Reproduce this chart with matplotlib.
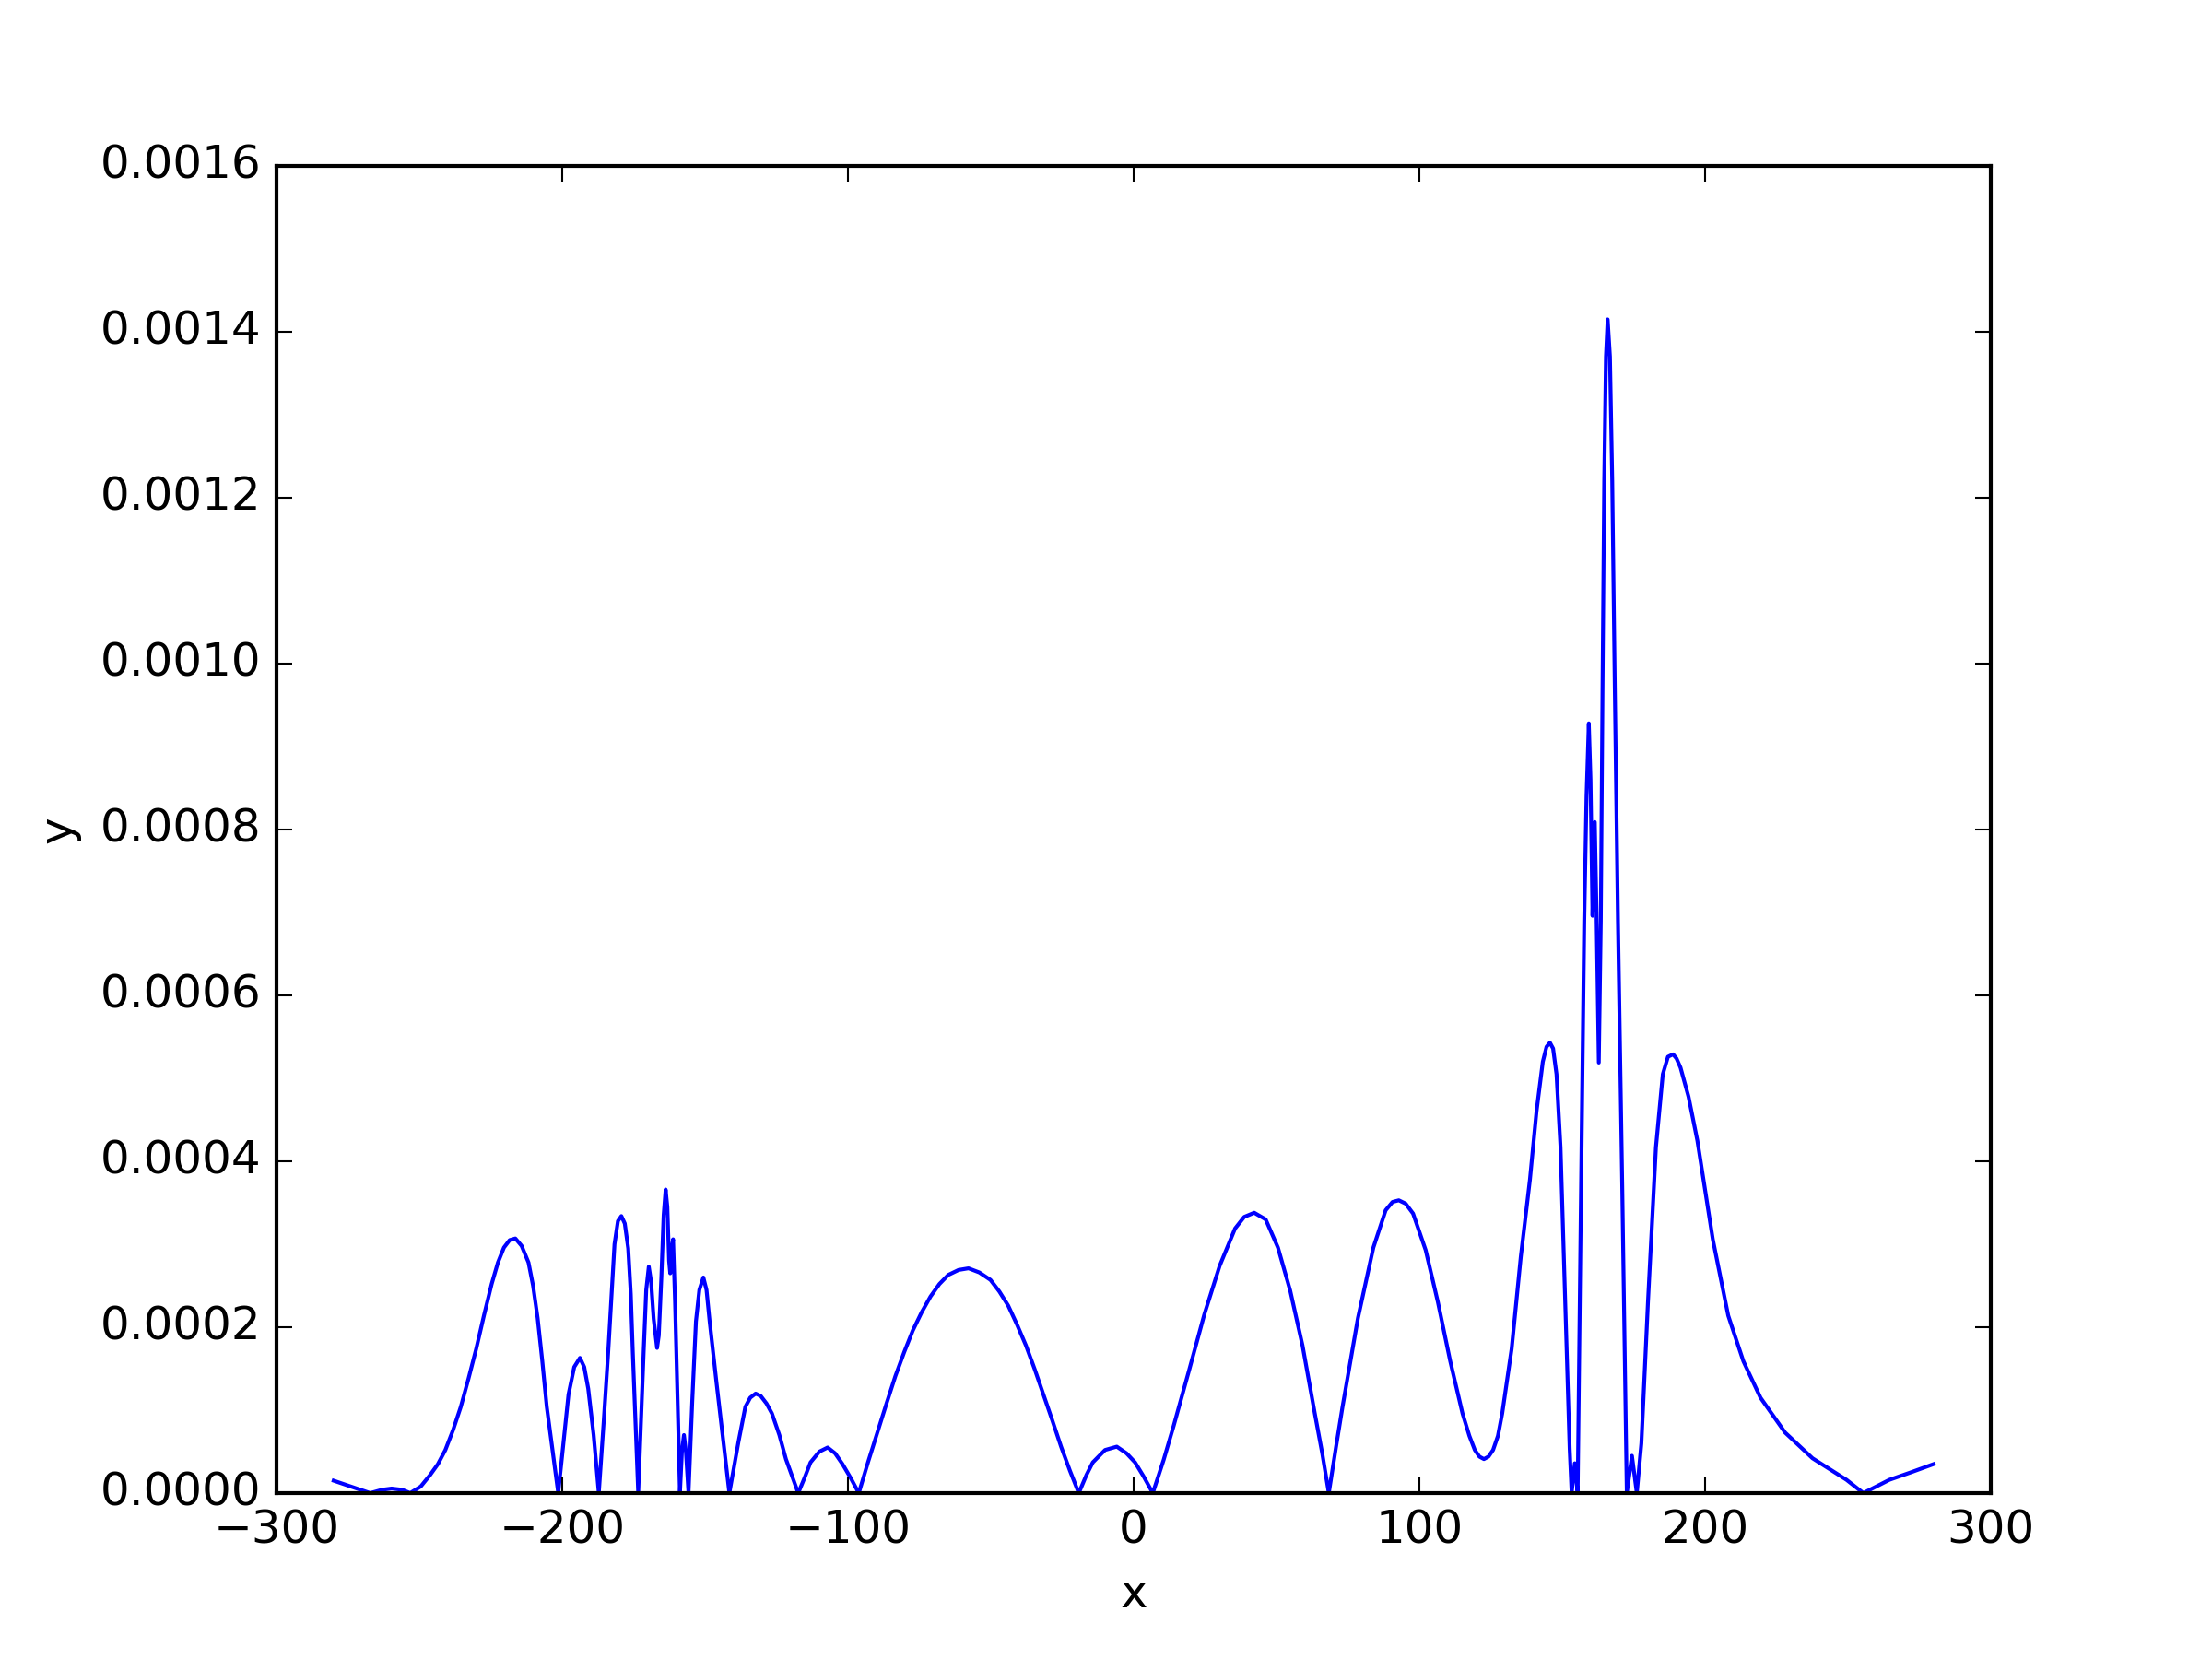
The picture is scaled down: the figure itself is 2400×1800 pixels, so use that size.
import numpy as np
import matplotlib
matplotlib.use("Agg")
import matplotlib.pyplot as plt

# ---------- Data (y in units of 1e-4) ---------- #
x_vals = [
    # left edge and first big lobe
    -280.0, -274.0, -267.2, -263.0, -259.7, -256.0, -253.2, -249.5, -246.2, -243.5,
    -240.9, -238.2, -235.5, -232.8, -230.1, -227.4, -224.7, -222.5, -220.4, -218.4,
    -216.4, -214.2, -211.8, -210.2, -208.6, -207.0, -205.4, -203.4, -201.4,
    # dense region around -180
    -199.6, -197.8, -195.8, -193.8, -192.3, -190.9, -189.0, -187.2, -185.5, -183.9,
    -182.7, -181.7, -180.5, -179.3, -178.1, -176.9, -176.0, -175.3, -174.4, -173.4,
    -172.4, -171.5, -170.6, -169.7, -168.9, -168.0, -166.8, -166.2, -165.3, -164.5,
    -163.8, -163.2, -162.6, -162.2, -161.7, -161.2, -160.5, -159.7, -158.8, -158.1,
    -157.4, -156.7, -155.8, -154.5, -153.2, -152.0, -150.6, -149.5, -148.4, -146.0,
    -143.5, -141.5,
    # small lobes
    -139.7, -138.3, -135.9, -134.2, -132.3, -130.5, -128.5, -126.6, -124.0, -121.7,
    -119.5, -117.4, -115.0, -113.1, -110.0, -107.1, -104.5, -101.9, -99.0, -96.2,
    # broad lobe around -58
    -92.9, -89.6, -86.5, -83.4, -80.3, -77.3, -74.2, -71.1, -68.0, -64.9,
    -61.3, -57.8, -54.0, -50.1, -47.0, -43.9, -40.8, -37.7, -34.6, -31.6,
    -28.5, -25.4, -22.3, -19.2,
    # small lobe around -6
    -16.5, -14.3, -10.0, -5.9, -2.5, 0.5, 3.5, 6.7,
    # lobes around 42 and 93, dip at 123, peak at 146
    10.5, 14.0, 19.4, 24.7, 30.1, 35.5, 38.7, 42.2, 46.2, 50.5,
    54.8, 59.1, 63.4, 66.0, 68.3, 70.8, 73.1, 78.5, 83.9, 88.2,
    90.6, 92.8, 95.2, 97.8, 102.2, 106.5, 110.8, 115.1, 117.5, 119.4,
    121.0, 122.6, 124.2, 125.8, 127.5, 129.0, 132.3, 135.5, 138.7, 141.0,
    143.2, 144.5, 145.7, 146.8, 148.0, 149.4, 151.0, 152.6, 153.3,
    # spikes around 160-175
    154.4, 155.4, 156.5, 157.7, 158.5, 159.3, 159.9, 160.6, 161.4, 162.0,
    162.8, 163.5, 164.1, 164.7, 165.3, 165.9, 166.7, 167.5, 168.4, 169.5,
    171.0, 172.6, 174.4, 176.1,
    # last lobe and tail
    177.7, 180.0, 182.8, 185.2, 187.0, 188.8, 190.0, 191.4, 194.2, 197.3,
    202.7, 208.1, 213.4, 219.4, 228.0, 237.6, 249.5, 255.4, 264.5, 272.0,
    280.0,
]
y_vals = [
    0.15, 0.08, 0.00, 0.04, 0.055, 0.04, 0.00, 0.08, 0.22, 0.35,
    0.52, 0.76, 1.04, 1.38, 1.74, 2.14, 2.52, 2.78, 2.96, 3.05,
    3.07, 2.98, 2.78, 2.50, 2.11, 1.60, 1.04, 0.52, 0.00,
    0.60, 1.19, 1.52, 1.63, 1.52, 1.26, 0.70, 0.00, 0.85, 1.70,
    2.40, 3.00, 3.28, 3.34, 3.25, 2.95, 2.40, 1.70, 0.90, 0.00,
    0.90, 1.70, 2.45, 2.73, 2.55, 2.10, 1.75, 1.90, 2.60, 3.35,
    3.66, 3.45, 2.80, 2.65, 2.95, 3.06, 2.30, 1.20, 0.00, 0.50,
    0.70, 0.50, 0.00, 1.10, 2.07, 2.45, 2.60, 2.45, 2.07, 1.33,
    0.59, 0.00,
    0.35, 0.62, 1.04, 1.15, 1.20, 1.17, 1.08, 0.96, 0.70, 0.41,
    0.20, 0.00, 0.20, 0.37, 0.50, 0.55, 0.48, 0.35, 0.18, 0.00,
    0.38, 0.74, 1.08, 1.41, 1.70, 1.96, 2.18, 2.37, 2.52, 2.63,
    2.69, 2.71, 2.66, 2.57, 2.43, 2.26, 2.03, 1.78, 1.49, 1.19,
    0.88, 0.56, 0.27, 0.00,
    0.22, 0.37, 0.52, 0.56, 0.48, 0.37, 0.20, 0.00,
    0.40, 0.81, 1.48, 2.15, 2.74, 3.19, 3.33, 3.38, 3.30, 2.96,
    2.44, 1.78, 0.96, 0.48, 0.00, 0.55, 1.04, 2.11, 2.96, 3.41,
    3.51, 3.53, 3.49, 3.37, 2.93, 2.30, 1.59, 0.96, 0.69, 0.52,
    0.44, 0.41, 0.44, 0.52, 0.69, 0.96, 1.74, 2.85, 3.78, 4.60,
    5.20, 5.38, 5.43, 5.36, 5.05, 4.17, 2.36, 0.54, 0.00,
    0.36, 0.00, 3.40, 6.90, 8.40, 9.28, 8.60, 6.96, 8.09, 7.00,
    5.19, 6.90, 9.70, 12.20, 13.70, 14.15, 13.70, 12.20, 9.70, 6.90,
    3.70, 0.00, 0.45, 0.00,
    0.60, 2.30, 4.17, 5.05, 5.26, 5.29, 5.24, 5.13, 4.78, 4.25,
    3.06, 2.14, 1.59, 1.15, 0.73, 0.42, 0.16, 0.00, 0.16, 0.25,
    0.35,
]

x = np.array(x_vals)
y = np.array(y_vals) * 1e-4

# ---------- Plot ---------- #
plt.style.use("classic")
fig = plt.figure(figsize=(8, 6), dpi=300)
ax = fig.add_subplot(111)
ax.plot(x, y, color="b", linewidth=1.0)
ax.set_xlim(-300, 300)
ax.set_ylim(0, 0.0016)
ax.set_xlabel("x")
ax.set_ylabel("y")

fig.savefig("out.png", dpi=300)
